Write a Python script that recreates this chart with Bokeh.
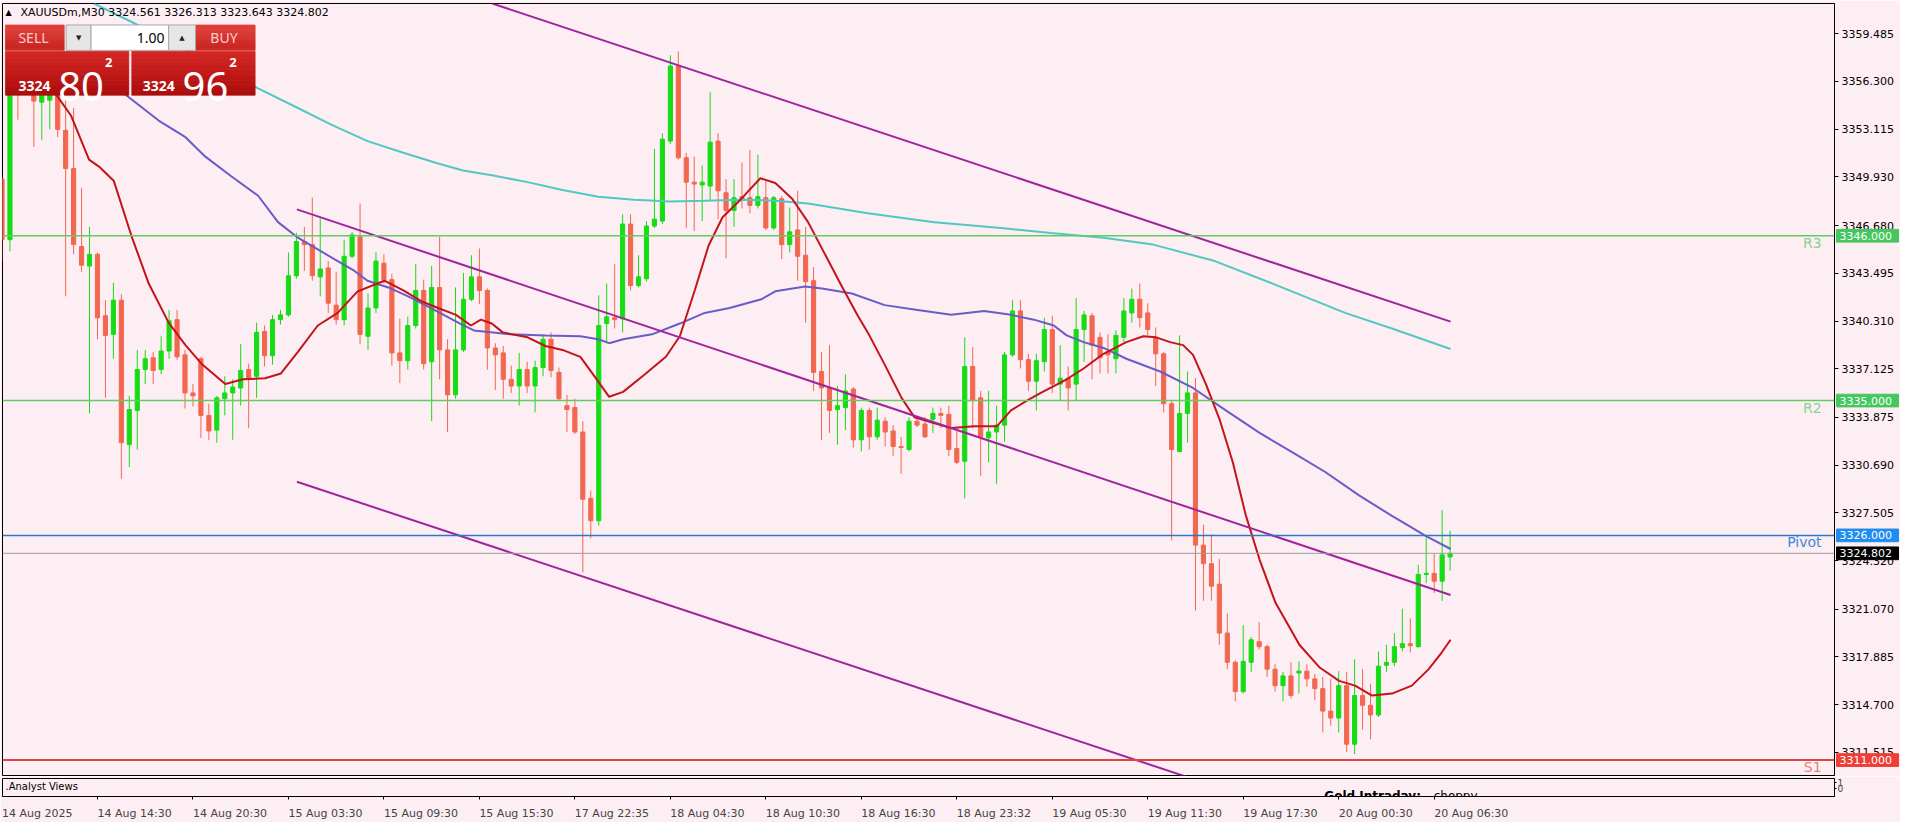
from bokeh.plotting import figure
from bokeh.models import (Range1d, FixedTicker, NumeralTickFormatter, ColumnDataSource, LinearAxis,
                          Span)
from bokeh.layouts import column
from bokeh.embed import file_html
from bokeh.resources import INLINE
from bokeh.core.properties import value

# ---------------- data ----------------
symbol = "XAUUSDm,M30"

opens = [3349.78, 3345.74, 3357.01, 3355.84, 3356.16, 3354.92, 3355.05, 3355.84, 3353.04, 3350.49,
         3345.28, 3343.98, 3344.76, 3340.66, 3339.42, 3341.70, 3332.06, 3334.34, 3337.07, 3337.86,
         3337.07, 3338.31, 3340.40, 3338.05, 3335.51, 3337.79, 3334.01, 3333.03, 3335.12, 3335.51,
         3335.84, 3337.07, 3336.62, 3339.61, 3337.99, 3340.40, 3340.72, 3343.33, 3345.61, 3345.41,
         3343.26, 3343.85, 3341.37, 3340.40, 3344.63, 3345.93, 3339.29, 3341.18, 3344.17, 3343.07,
         3338.18, 3337.66, 3340.01, 3342.35, 3337.59, 3342.55, 3338.38, 3335.38, 3338.38, 3341.76,
         3343.26, 3342.35, 3338.51, 3338.18, 3336.42, 3335.97, 3337.07, 3335.97, 3337.20, 3339.09,
         3336.88, 3334.66, 3334.53, 3332.90, 3328.47, 3326.98, 3340.14, 3340.53, 3340.46, 3346.78,
         3342.68, 3343.13, 3346.65, 3346.98, 3352.32, 3357.33, 3351.21, 3349.58, 3349.39, 3349.32,
         3352.32, 3348.87, 3347.69, 3348.61, 3348.54, 3348.02, 3348.54, 3346.52, 3348.47, 3345.41,
         3346.39, 3344.70, 3343.00, 3336.94, 3335.84, 3334.40, 3334.53, 3335.77, 3332.38, 3334.34,
         3332.58, 3333.62, 3332.97, 3331.93, 3331.73, 3333.62, 3333.43, 3333.75, 3334.14, 3334.08,
         3331.80, 3330.95, 3337.27, 3335.18, 3332.51, 3332.90, 3333.36, 3338.05, 3340.98, 3337.73,
         3336.29, 3337.59, 3339.74, 3336.10, 3336.49, 3336.10, 3339.74, 3340.66, 3339.22, 3338.25,
         3337.79, 3339.22, 3340.85, 3341.76, 3340.85, 3339.22, 3338.12, 3334.79, 3331.60, 3334.14,
         3335.51, 3325.35, 3324.11, 3322.74, 3319.48, 3317.53, 3315.57, 3317.53, 3318.90, 3318.57,
         3317.07, 3315.97, 3316.62, 3316.81, 3316.94, 3316.42, 3315.77, 3314.27, 3313.81, 3315.97,
         3312.06, 3315.31, 3314.66, 3314.01, 3317.33, 3317.53, 3318.51, 3318.77, 3318.57, 3323.39,
         3323.46, 3322.94, 3324.561]
highs = [3349.97, 3357.66, 3357.79, 3357.47, 3357.14, 3356.49, 3356.16, 3356.49, 3355.19, 3354.53,
         3349.19, 3346.59, 3344.89, 3341.70, 3342.87, 3342.09, 3335.31, 3338.38, 3338.38, 3338.25,
         3339.29, 3341.05, 3341.05, 3338.38, 3336.10, 3337.92, 3334.79, 3335.31, 3336.62, 3336.42,
         3338.77, 3337.46, 3340.20, 3340.01, 3340.72, 3341.05, 3344.89, 3346.19, 3346.59, 3348.54,
         3347.17, 3344.31, 3343.59, 3345.74, 3346.26, 3348.15, 3342.15, 3344.89, 3344.76, 3343.46,
         3340.46, 3340.59, 3344.11, 3343.07, 3343.98, 3345.93, 3339.09, 3342.55, 3343.52, 3344.70,
         3345.15, 3342.48, 3338.83, 3338.64, 3337.33, 3338.18, 3337.59, 3337.66, 3339.42, 3339.55,
         3337.20, 3335.38, 3335.12, 3333.62, 3328.99, 3342.02, 3342.81, 3344.11, 3347.43, 3347.43,
         3344.70, 3346.98, 3351.80, 3352.84, 3358.05, 3358.31, 3351.54, 3351.28, 3350.69, 3355.58,
         3352.84, 3349.78, 3349.78, 3350.89, 3351.73, 3351.41, 3349.78, 3348.67, 3348.67, 3347.89,
         3349.00, 3346.59, 3343.91, 3338.25, 3338.70, 3335.97, 3336.75, 3335.90, 3334.53, 3334.53,
         3334.53, 3333.88, 3333.36, 3332.58, 3333.88, 3333.88, 3333.88, 3334.53, 3334.53, 3334.66,
         3333.03, 3339.22, 3338.57, 3335.64, 3335.64, 3334.66, 3338.25, 3341.70, 3341.70, 3338.12,
         3338.12, 3340.53, 3340.66, 3338.70, 3337.27, 3341.83, 3340.98, 3340.85, 3339.55, 3339.42,
         3339.68, 3341.83, 3342.48, 3342.81, 3341.50, 3339.88, 3338.25, 3334.99, 3339.35, 3336.94,
         3336.49, 3326.71, 3326.06, 3324.43, 3320.79, 3317.66, 3320.00, 3319.22, 3320.20, 3318.70,
         3317.40, 3316.88, 3317.53, 3317.59, 3317.40, 3316.75, 3316.55, 3316.42, 3316.94, 3316.88,
         3317.72, 3317.07, 3316.10, 3318.25, 3318.70, 3319.48, 3321.11, 3320.46, 3324.04, 3325.87,
         3324.76, 3327.69, 3326.313]
lows = [3344.31, 3344.96, 3353.75, 3355.51, 3351.93, 3352.38, 3353.10, 3352.58, 3341.96, 3344.76,
        3343.59, 3334.14, 3339.09, 3335.18, 3337.79, 3329.78, 3330.56, 3331.73, 3336.10, 3336.10,
        3336.75, 3337.79, 3337.73, 3334.47, 3334.60, 3332.51, 3332.38, 3332.19, 3334.01, 3332.38,
        3334.66, 3333.16, 3335.18, 3337.27, 3337.40, 3340.07, 3340.59, 3343.13, 3343.65, 3343.00,
        3341.96, 3340.85, 3340.07, 3340.01, 3344.50, 3338.77, 3338.38, 3340.85, 3342.81, 3337.33,
        3336.16, 3337.07, 3339.81, 3337.07, 3333.62, 3336.42, 3332.90, 3335.12, 3338.25, 3341.63,
        3341.44, 3337.07, 3335.71, 3335.12, 3335.51, 3334.66, 3335.51, 3334.21, 3336.62, 3336.55,
        3334.99, 3332.90, 3332.77, 3323.52, 3325.80, 3326.65, 3338.83, 3339.81, 3339.55, 3342.35,
        3342.55, 3342.94, 3346.52, 3346.78, 3352.12, 3351.08, 3346.52, 3346.32, 3346.98, 3348.41,
        3347.11, 3344.50, 3346.59, 3347.82, 3347.50, 3347.82, 3346.39, 3346.39, 3344.44, 3344.89,
        3343.00, 3340.20, 3335.64, 3332.38, 3332.84, 3332.06, 3333.03, 3331.86, 3331.60, 3331.73,
        3332.38, 3331.93, 3331.28, 3330.10, 3331.60, 3333.23, 3332.51, 3332.84, 3333.16, 3331.28,
        3330.75, 3328.47, 3333.16, 3329.97, 3330.88, 3329.45, 3332.25, 3337.92, 3337.14, 3335.64,
        3334.34, 3336.94, 3335.51, 3334.99, 3334.34, 3334.99, 3337.59, 3336.42, 3336.81, 3336.81,
        3336.81, 3338.90, 3340.20, 3339.88, 3339.35, 3335.97, 3334.21, 3325.67, 3331.54, 3332.19,
        3320.98, 3321.63, 3321.63, 3318.70, 3317.07, 3314.92, 3315.44, 3316.88, 3318.38, 3316.55,
        3315.57, 3314.92, 3315.12, 3315.44, 3315.90, 3314.99, 3312.84, 3313.29, 3312.84, 3311.53,
        3311.40, 3313.03, 3312.38, 3313.88, 3316.88, 3317.27, 3318.25, 3318.18, 3318.51, 3322.81,
        3322.15, 3321.63, 3323.643]
closes = [3345.74, 3356.81, 3355.84, 3356.49, 3354.99, 3355.71, 3355.51, 3353.10, 3350.49, 3345.41,
          3344.04, 3344.76, 3340.53, 3339.35, 3341.70, 3332.19, 3334.40, 3337.07, 3337.79, 3337.01,
          3338.31, 3340.33, 3337.92, 3335.51, 3335.31, 3334.01, 3332.97, 3335.18, 3335.51, 3335.90,
          3337.01, 3336.49, 3339.55, 3337.99, 3340.40, 3340.72, 3343.33, 3345.61, 3345.41, 3343.33,
          3343.78, 3341.50, 3340.40, 3344.63, 3346.06, 3339.42, 3341.18, 3344.31, 3343.07, 3338.18,
          3337.66, 3340.01, 3342.35, 3337.46, 3342.55, 3338.38, 3335.38, 3338.38, 3341.76, 3343.26,
          3342.35, 3338.51, 3338.05, 3336.42, 3335.97, 3337.07, 3335.97, 3337.20, 3339.09, 3337.01,
          3335.12, 3334.40, 3332.90, 3328.41, 3326.98, 3340.01, 3340.59, 3340.40, 3346.78, 3342.68,
          3343.26, 3346.65, 3347.11, 3352.45, 3357.33, 3351.21, 3349.58, 3349.45, 3349.58, 3352.25,
          3349.00, 3347.69, 3348.54, 3348.47, 3348.02, 3348.61, 3346.52, 3348.54, 3345.41, 3346.26,
          3344.63, 3342.94, 3336.88, 3335.84, 3334.34, 3334.66, 3335.64, 3332.38, 3334.34, 3332.58,
          3333.69, 3332.90, 3331.93, 3331.86, 3333.62, 3333.36, 3332.58, 3334.14, 3334.01, 3331.73,
          3330.88, 3337.27, 3334.99, 3332.58, 3332.90, 3333.36, 3338.05, 3340.98, 3337.73, 3336.29,
          3337.66, 3339.74, 3336.10, 3336.49, 3335.84, 3339.74, 3340.72, 3338.70, 3337.86, 3338.05,
          3339.35, 3340.98, 3341.76, 3340.53, 3339.74, 3338.12, 3334.79, 3331.73, 3334.14, 3335.51,
          3325.35, 3324.11, 3322.61, 3319.48, 3317.53, 3315.57, 3317.59, 3319.03, 3318.57, 3317.07,
          3315.97, 3316.62, 3315.31, 3316.94, 3316.42, 3315.77, 3314.27, 3313.81, 3315.97, 3312.06,
          3315.31, 3314.66, 3314.01, 3317.27, 3317.53, 3318.57, 3318.77, 3318.64, 3323.39, 3323.46,
          3322.94, 3324.70, 3324.802]

# moving averages (bar index, price)
ma_fast_x = [5.3, 6.94, 8.69, 10.94, 12.19, 14.06, 16.31, 18.44, 20.94, 23.06, 25.06, 28.06, 30.31, 33.06,
             35.06, 37.19, 39.69, 42.19, 44.69, 48.06, 50.44, 52.69, 54.81, 57.06, 58.94, 60.19, 61.56,
             62.94, 66.06, 68.31, 70.44, 72.69, 74.56, 76.31, 78.06, 80.81, 83.44, 85.19, 87.06, 88.81,
             90.56, 92.81, 95.31, 97.19, 99.31, 101.31, 103.44, 105.56, 107.56, 108.81, 110.94, 113.06,
             114.69, 117.19, 119.31, 122.19, 125.06, 126.81, 128.81, 130.56, 132.19, 133.81, 135.94,
             138.44, 141.31, 143.44, 145.06, 146.81, 148.44, 149.69, 151.31, 153.06, 154.69, 156.31,
             158.06, 160.06, 163.06, 165.56, 168.06, 170.06, 172.19, 174.69, 177.19, 179.31, 180.94, 182.06]
ma_fast_y = [3356.16, 3355.32, 3354.01, 3351.08, 3350.62, 3349.65, 3345.93, 3342.81, 3340.20, 3338.70,
             3337.46, 3336.10, 3336.42, 3336.49, 3336.81, 3338.25, 3340.01, 3340.85, 3342.29, 3343.00,
             3342.35, 3341.63, 3341.18, 3340.72, 3340.01, 3340.40, 3340.14, 3339.55, 3339.22, 3338.64,
             3338.38, 3337.92, 3336.55, 3335.25, 3335.58, 3336.75, 3337.92, 3339.29, 3342.35, 3345.35,
             3347.24, 3348.41, 3349.84, 3349.52, 3348.47, 3346.91, 3344.76, 3342.61, 3340.66, 3339.55,
             3337.40, 3335.18, 3333.88, 3333.49, 3333.16, 3333.29, 3333.29, 3334.34, 3334.99, 3335.51,
             3335.97, 3336.42, 3337.14, 3338.12, 3338.90, 3339.29, 3339.22, 3338.90, 3338.70, 3338.05,
             3336.10, 3333.69, 3330.88, 3327.37, 3324.37, 3321.50, 3318.70, 3317.20, 3316.29, 3315.97,
             3315.31, 3315.44, 3315.97, 3317.07, 3318.18, 3319.03]
ma_mid_x = [14.06, 15.94, 19.69, 23.06, 25.56, 28.81, 32.19, 34.69, 37.19, 39.69, 42.19, 44.31, 45.94,
            48.56, 51.31, 54.81, 57.56, 59.31, 63.81, 68.31, 72.69, 74.94, 76.31, 78.06, 81.69, 85.19,
            88.31, 91.44, 95.44, 97.19, 100.94, 103.06, 106.81, 110.94, 115.06, 119.31, 123.44, 126.81,
            129.69, 132.19, 133.81, 135.94, 138.44, 141.31, 145.56, 149.69, 153.81, 158.06, 162.19,
            166.31, 170.56, 174.69, 177.19, 178.81, 182.06]
ma_mid_y = [3355.97, 3355.25, 3353.69, 3352.58, 3351.28, 3349.97, 3348.67, 3346.91, 3345.87, 3345.09,
            3344.31, 3343.65, 3343.00, 3342.55, 3341.89, 3340.92, 3340.14, 3339.68, 3339.42, 3339.35,
            3339.29, 3339.09, 3338.83, 3339.09, 3339.42, 3340.14, 3340.85, 3341.18, 3341.76, 3342.29,
            3342.61, 3342.48, 3342.15, 3341.37, 3341.05, 3340.72, 3340.98, 3340.72, 3340.40, 3340.01,
            3339.35, 3338.90, 3338.51, 3337.79, 3336.94, 3335.84, 3334.34, 3332.84, 3331.54, 3330.23,
            3328.67, 3327.30, 3326.52, 3326.00, 3325.09]
ma_slow_x = [11.56, 16.31, 24.69, 32.19, 37.19, 41.31, 45.94, 50.44, 54.81, 57.94, 61.56, 66.06, 70.44,
             74.94, 79.44, 83.94, 88.31, 92.81, 97.19, 101.31, 108.81, 117.19, 125.56, 131.81, 138.44,
             144.69, 152.44, 159.69, 168.81, 174.69, 182.06]
ma_slow_y = [3361.50, 3360.27, 3357.99, 3355.84, 3354.53, 3353.43, 3352.32, 3351.54, 3350.82, 3350.36,
             3350.04, 3349.58, 3349.06, 3348.61, 3348.41, 3348.28, 3348.34, 3348.41, 3348.34, 3348.15,
             3347.50, 3346.91, 3346.52, 3346.19, 3345.87, 3345.41, 3344.31, 3342.81, 3340.85, 3339.81,
             3338.44]

# descending channel (two anchor points per line)
chan_upper_x = [61.63, 182.06]
chan_upper_y = [3361.50, 3340.27]
chan_mid_x = [37.06, 182.06]
chan_mid_y = [3347.76, 3322.02]
chan_low_x = [37.06, 182.06]
chan_low_y = [3329.58, 3304.04]

level_names = ["R3", "R2", "Pivot", "S1"]
level_values = [3346.0, 3335.0, 3326.0, 3311.0]

ask_price = 3324.962

ytick_values = [3359.485, 3356.300, 3353.115, 3349.930, 3346.680, 3343.495, 3340.310, 3337.125,
                3333.875, 3330.690, 3327.505, 3324.320, 3321.070, 3317.885, 3314.700, 3311.515]

time_labels = ["14 Aug 2025", "14 Aug 14:30", "14 Aug 20:30", "15 Aug 03:30", "15 Aug 09:30",
               "15 Aug 15:30", "17 Aug 22:35", "18 Aug 04:30", "18 Aug 10:30", "18 Aug 16:30",
               "18 Aug 23:32", "19 Aug 05:30", "19 Aug 11:30", "19 Aug 17:30", "20 Aug 00:30",
               "20 Aug 06:30"]
time_label_bars = [0, 12, 24, 36, 48, 60, 72, 84, 96, 108, 120, 132, 144, 156, 168, 180]

# ---------------- styling ----------------
BG = "#FDEEF3"
BULL = "#16DC16"
BEAR = "#F2674F"
FONT = "DejaVu Sans"


# map reference-screen pixels of the original terminal to data coordinates
def gx(px):
    return (px - 2.5) / 8.0


def gy(py):
    return 3361.70 - 0.06515 * py


PRICE_W = 1832
X0, X1 = gx(3), gx(1845)
Y0, Y1 = gy(794), gy(3)
xr = Range1d(X0, X1)


def fx(frame_px):
    """x data coordinate of a pixel offset from the left edge of the price area"""
    return X0 + (X1 - X0) * frame_px / PRICE_W


p = figure(width=1900, height=776, x_range=xr, y_range=Range1d(Y0, Y1),
           output_backend="svg", toolbar_location=None, x_axis_location=None,
           y_axis_location="right", min_border_left=2, min_border_right=1900 - 2 - PRICE_W,
           min_border_top=3, min_border_bottom=1,
           background_fill_color=BG, border_fill_color=BG,
           outline_line_color="black", outline_line_width=1)
p.grid.visible = False

yax = p.yaxis[0]
yax.ticker = FixedTicker(ticks=ytick_values)
yax.formatter = NumeralTickFormatter(format="0.000")
yax.major_label_text_font = FONT
yax.major_label_text_font_size = "11px"
yax.major_label_text_color = "black"
yax.major_tick_out = 4
yax.major_tick_in = 0
yax.minor_tick_out = 0
yax.minor_tick_in = 0
yax.axis_line_color = "black"
yax.major_tick_line_color = "black"
yax.major_label_standoff = 3

# candles
idx = list(range(len(opens)))
cols = [BULL if c >= o else BEAR for o, c in zip(opens, closes)]
src = ColumnDataSource(dict(
    x=idx, h=highs, l=lows,
    top=[max(o, c) for o, c in zip(opens, closes)],
    bot=[min(o, c) for o, c in zip(opens, closes)],
    col=cols))
p.segment(x0="x", y0="l", x1="x", y1="h", line_color="col", line_width=1, source=src)
p.vbar(x="x", width=0.52, top="top", bottom="bot", fill_color="col", line_color="col",
       line_width=1, source=src)

# moving averages
p.line(ma_slow_x, ma_slow_y, line_color="#52C7C3", line_width=2)
p.line(ma_mid_x, ma_mid_y, line_color="#6A5CC6", line_width=2)
p.line(ma_fast_x, ma_fast_y, line_color="#C3141C", line_width=2)

# channel
for cx, cy in [(chan_upper_x, chan_upper_y), (chan_mid_x, chan_mid_y), (chan_low_x, chan_low_y)]:
    p.line(cx, cy, line_color="#A0259C", line_width=2)

# horizontal levels
bid = closes[-1]
hl_vals = level_values + [bid]
hl_cols = ["#62CB62", "#62CB62", "#2A78C8", "#E04444", "#9C9C9C"]
hl_wids = [1.5, 1.5, 1.5, 2, 1]
for v, c, w in zip(hl_vals, hl_cols, hl_wids):
    p.add_layout(Span(location=v, dimension="width", line_color=c, line_width=w))

level_text_colors = ["#86D48E", "#86D48E", "#3B88D8", "#E7827A"]
lsrc = ColumnDataSource(dict(x=[gx(1832)] * len(level_names), y=level_values,
                             t=level_names, c=level_text_colors))
p.text(x="x", y="y", text="t", text_color="c", text_font=value(FONT), text_font_size="14px",
       text_align="right", text_baseline="top", y_offset=-1, source=lsrc)

# price boxes on the price scale (overlay level, painted after the scale)
box_vals = [level_values[0], level_values[1], level_values[2], bid, level_values[3]]
box_cols = ["#43C75E", "#43C75E", "#1F8CF0", "#000000", "#EE3E36"]
half_h = 6.5 * 0.06515
bsrc = ColumnDataSource(dict(y=box_vals, top=[v + half_h for v in box_vals],
                             bottom=[v - half_h for v in box_vals], c=box_cols,
                             t=[f"{v:.3f}" for v in box_vals]))
p.quad(left=fx(PRICE_W + 2), right=fx(PRICE_W + 64), top="top", bottom="bottom",
       fill_color="c", line_color="c", source=bsrc, level="overlay")
p.text(x=fx(PRICE_W + 5), y="y", text="t", text_color="white", text_font=value(FONT),
       text_font_size="11px", text_baseline="middle", source=bsrc, level="overlay")

# ---------- header + one-click trading panel ----------
p.text(x=[gx(6)], y=[gy(12)], text=["\u25B2"], text_font=value(FONT), text_font_size="8px",
       text_color="black", text_baseline="middle")
header = f"{symbol}  {opens[-1]:.3f} {highs[-1]:.3f} {lows[-1]:.3f} {closes[-1]:.3f}"
p.text(x=[gx(21)], y=[gy(12)], text=[header], text_font=value(FONT), text_font_size="11px",
       text_color="black", text_baseline="middle")


def grad_box(l, r, t, b, c1, c2, n=12):
    L, R, T, B, C = [], [], [], [], []
    for k in range(n):
        T.append(gy(t + (b - t) * k / n))
        B.append(gy(t + (b - t) * (k + 1) / n))
        L.append(gx(l))
        R.append(gx(r))
        m = (k + 0.5) / n
        rgb = tuple(int(round(c1[j] + (c2[j] - c1[j]) * m)) for j in range(3))
        C.append("#%02x%02x%02x" % rgb)
    p.quad(left=L, right=R, top=T, bottom=B, fill_color=C, line_color=C, line_width=0.7)


grad_box(6, 65, 25, 51, (226, 66, 60), (200, 36, 32))
grad_box(197, 257, 25, 51, (226, 66, 60), (200, 36, 32))
grad_box(6, 130, 52, 97, (214, 40, 36), (170, 12, 12))
grad_box(133, 257, 52, 97, (214, 40, 36), (170, 12, 12))
p.quad(left=[gx(67), gx(170)], right=[gx(92), gx(197)], top=[gy(25)] * 2, bottom=[gy(51)] * 2,
       fill_color="#E6E6E6", line_color="#A9A9A9", line_width=1)
p.quad(left=[gx(92)], right=[gx(170)], top=[gy(25)], bottom=[gy(51)],
       fill_color="white", line_color="#A9A9A9", line_width=1)
p.text(x=[gx(79.5), gx(183.5)], y=[gy(38)] * 2, text=["\u25BC", "\u25B2"], text_font=value(FONT),
       text_font_size="7px", text_color="#222222", text_align="center", text_baseline="middle")
p.text(x=[gx(166)], y=[gy(38)], text=["1.00"], text_font=value("Noto Sans"), text_font_size="14px",
       text_color="black", text_align="right", text_baseline="middle")
p.text(x=[gx(19), gx(212)], y=[gy(38)] * 2, text=["SELL", "BUY"], text_font=value("Noto Sans"),
       text_font_size="14px", text_color="#F8CDC9", text_baseline="middle")

for price, left in [(bid, 19), (ask_price, 144)]:
    s = f"{price:.3f}"
    p.text(x=[gx(left)], y=[gy(88)], text=[s[:4]], text_font=value("Noto Sans"),
           text_font_size="14px", text_font_style="bold", text_color="white",
           text_baseline="alphabetic")
    p.text(x=[gx(left + 40)], y=[gy(88)], text=[s[5:7]], text_font=value("Noto Sans"),
           text_font_size="40px", text_color="white", text_baseline="alphabetic")
    p.text(x=[gx(left + 87)], y=[gy(59)], text=[s[7]], text_font=value("Noto Sans"),
           text_font_size="13px", text_font_style="bold", text_color="white", text_baseline="top")

# ---------------- sub-window with time axis ----------------
p2 = figure(width=1900, height=46, x_range=xr, y_range=Range1d(-1.2, 1.55),
            output_backend="svg", toolbar_location=None, y_axis_location="right",
            min_border_left=2, min_border_right=1900 - 2 - PRICE_W, min_border_top=2,
            min_border_bottom=21, background_fill_color=BG, border_fill_color=BG,
            outline_line_color="black", outline_line_width=1)
p2.grid.visible = False

# axis 1: tick marks at the labelled bars (its labels are not painted)
xax = p2.xaxis[0]
xax.ticker = FixedTicker(ticks=time_label_bars)
xax.major_label_overrides = {b: "" for b in time_label_bars}
xax.major_label_text_font_size = "1px"
xax.major_label_text_color = None
xax.major_label_standoff = 0
xax.major_tick_out = 3
xax.major_tick_in = 0
xax.minor_tick_out = 0
xax.minor_tick_in = 0
xax.axis_line_color = "black"

# axis 2: labels that start at their tick (centre shifted right by half the text width)
CHAR_EM = {" ": 0.318, ":": 0.337, "A": 0.684, "u": 0.634, "g": 0.635}
PX_PER_BAR = 8.0 * PRICE_W / 1842.0


def half_width_bars(t, size=11.0):
    w = sum(CHAR_EM.get(ch, 0.636) for ch in t) * size
    return round(w / 2.0 / PX_PER_BAR, 3)


label_pos = [b + half_width_bars(t) for b, t in zip(time_label_bars, time_labels)]
lab_axis = LinearAxis(ticker=FixedTicker(ticks=label_pos),
                      major_label_overrides={v: t for v, t in zip(label_pos, time_labels)},
                      major_label_text_font=FONT, major_label_text_font_size="11px",
                      major_label_standoff=1, major_tick_line_color=None,
                      minor_tick_line_color=None, axis_line_color=None)
p2.add_layout(lab_axis, "below")

yax2 = p2.yaxis[0]
yax2.ticker = FixedTicker(ticks=[0, 1])
yax2.major_label_text_font = FONT
yax2.major_label_text_font_size = "9px"
yax2.major_tick_out = 2
yax2.major_tick_in = 0
yax2.minor_tick_out = 0
yax2.major_label_standoff = 1
yax2.axis_line_color = "black"

p2.text(x=[gx(6)], y=[0.29], text=[".Analyst Views"], text_font=value(FONT), text_font_size="10px",
        text_color="black", text_baseline="middle")
p2.text(x=[gx(1332)], y=[-1.08], text=["Gold Intraday:"], text_font=value(FONT),
        text_font_size="12px", text_font_style="bold", text_color="black",
        text_baseline="alphabetic")
p2.text(x=[gx(1442)], y=[-1.08], text=["choppy."], text_font=value(FONT),
        text_font_size="12px", text_color="black", text_baseline="alphabetic")

layout = column(p, p2, spacing=0)
open("out.html", "w").write(file_html(layout, INLINE))
